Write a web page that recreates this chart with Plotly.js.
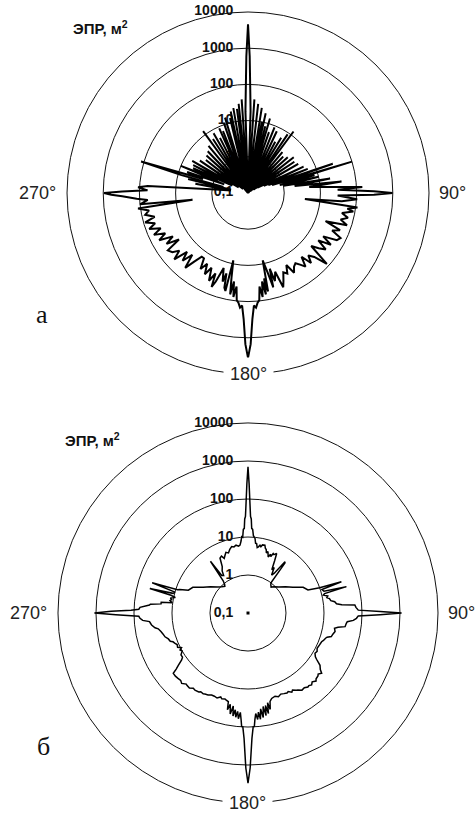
<!DOCTYPE html>
<html><head><meta charset="utf-8">
<script src="https://cdn.plot.ly/plotly-3.0.1.min.js"></script>
<style>html,body{margin:0;padding:0;background:#fff}#chart{width:476px;height:816px}</style>
</head><body><div id="chart"></div>
<script>
// Plot "а" — RCS (m^2) vs aspect angle (deg)
const thetaA = [
  0,0.7,1.3,1.8,2.3,3.9,4.6,6.5,7.2,9.2,
  9.8,11,11.6,12.5,13.2,14.5,15,16.4,17,19,
  19.6,22,22.7,25,25.6,28,28.6,31,31.7,34,
  34.6,36.5,37.2,40,40.8,44,45,48,49,52,
  53,56,57,60,61,64.6,65.4,68,69,71,
  71.8,73.2,74,75,76,77,78.5,80,81.5,83,
  84.5,86,87,88,89.2,90,90.8,91.6,93.3,95,
  96,97.5,99,100,102,104,106,108,110,112,
  114,116,118,120,122,124,126,128,130,132,
  134,136,138,140,142,144,146,148,150,152,
  154,156,158,159.5,161,163,164,165,166,167.7,
  168.5,169.3,170,171,172,173,174,175,176,177,
  178,179,180,181,182,183,184,185,186,187,
  188,189,190,191,192.3,193,194,195,196,198,
  200,201.2,202,204,206,208,210,212,214,216,
  218,220,222,224,226,228,230,232,234.4,236,
  238,240,242,244,246,248,250,252,254,255.7,
  258,260,262,263,264,266,267,268.5,269.3,270,
  270.7,271.5,273,274,276,278,280,281,283,284,
  285,286.4,287.2,289,290,292,293,294.3,295,297,
  298,300,301,304,305,308,309,312,313,316,
  317,320,321,324,324.7,327,327.6,330,330.6,333,
  333.6,336,336.6,338,338.6,341,341.6,343,343.6,346.5,
  347.2,348,348.6,350.2,350.8,352.5,353.1,354,354.6,356.1,
  357.7,358.2,358.7,359.3,360];
const rA = [
  4600,600,60,18,0.1,39,0.12,30,0.1,24,
  0.15,10,0.1,18,0.12,8,0.1,14,0.2,6,
  0.1,9,0.15,7.6,0.1,4,0.2,6,0.1,9,
  0.15,13,0.1,3,0.2,2.5,0.15,3,0.12,4,
  0.2,3.5,0.15,4,0.2,5,0.3,6,0.4,30,
  0.5,100,1,8,0.8,10,1,20,2,40,
  5,25,145,30,300,980,300,30,105,40,
  3.8,112,60,90,45,70,46,75,19,55,
  35,70,60,25,50,22,45,30,19,85,
  35,25,40,20,38,28,22,25,35,18,
  30,25,41,60,20,35,15,50,20,8,
  60,25,70,30,80,40,95,110,150,130,
  300,1500,3600,1500,300,130,150,110,95,40,
  80,30,70,25,8,60,50,20,35,15,
  40,61,25,45,20,35,18,30,15,15,
  25,50,20,40,22,55,30,45,53,20,
  45,25,60,35,70,40,80,50,90,46,
  80,60,117,3.5,100,60,120,300,600,950,
  300,60,110,60,0.8,0.3,3,0.3,5,0.5,
  8,120,2,6,0.5,10,0.8,4.6,0.3,5,
  0.4,6,0.2,4,0.2,3,0.15,3.5,0.2,4,
  0.15,5,0.1,12.9,0.1,6,0.15,8,0.1,5.1,
  0.1,9,0.1,7,0.2,11,0.1,15,0.12,13.5,
  0.1,20,0.1,24,0.12,22,0.1,30,0.12,39,
  0.1,18,60,600,4600];

// Plot "б"
const thetaB = [
  0,0.5,1,1.5,2,2.5,3.2,4,5.4,6.2,
  7.1,8,9,10,11,12,14,15,16,17,
  18,19.8,21,22,23,24,25.7,27,28.8,30,
  31.9,33.5,35.8,36.5,37.2,39,41.7,45,50,55,
  60,65,69,70.5,71.5,72.3,74,75,75.8,76.6,
  78,79,80,81.5,82.6,84,85,85.7,87,88.5,
  89.3,90,90.7,91.5,92.8,94,95,96,98,99,
  100,102,104,105.8,107,108,110,111.3,114,117,
  119,121,123,124,126,128,129.3,131,132,134,
  135,137,138.5,140,141,143,145,147,148,150,
  151,152.9,154,156,158,160,162,164.5,166,167,
  167.7,168.5,169.3,170,170.8,171.7,172.5,173.3,174,174.8,
  175.6,176.3,176.8,177.4,178.2,179.2,180,180.8,181.8,182.6,
  183.2,183.7,184.4,185.2,186,186.7,187.5,188.3,189,190,
  191,192,192.5,194,195,197,198,200,202,203.9,
  206,208,209,211,212,214.5,216,218,220,221,
  223.3,225,227,229,231.1,232,233,234.7,236,238,
  240,241.5,242.5,244,246,247.4,249,250,252,254,
  256,258,260,261,262.9,264,265,266,267.2,268.3,
  269.3,270,270.7,271.3,272,273,274.6,275.1,276,277,
  277.7,279,280,281,282,283,284,284.7,286,287.5,
  288.3,289,291,295,300,305,310,315,319,321,
  322.5,324,325,327,328.5,331,333,335,336.5,338,
  340,342,344,346.2,348,350,352,353.3,354.5,355.3,
  356,356.8,357.5,358,358.5,359,359.5,360];
const rB = [
  700,250,80,35,30,17,16,11,9.4,7,
  6.9,5.5,5.8,6.5,6,6.8,6.9,5.8,5.5,4.5,
  5,3.7,4.5,4,5,4.8,5.5,3.5,2,2.4,
  1.5,1.8,4.6,4.3,1.0,0.9,0.82,0.95,1.15,1.6,
  2.3,4,4.9,10,39,11,12,48,12,10.9,
  14,13,15,16,20,22,30,66,70,80,
  300,1100,300,80,72,60,42,40,38,25,
  20.5,22,20,19,15,14,13,12,11.5,11,
  12,11.4,13,15,22,26,32,28,30,31,
  34,30,33.6,31,32,29,30,26,25,22,
  24,21,22,21,20,22,20,21.5,25,40,
  26,50,30,55,31,60,35,65,42,65,
  45,65,98,100,200,1200,3000,1200,200,100,
  98,65,42,62,40,58,37,55,30,50,
  28,40,24.5,23,22,23,21,24,23,23,
  25,26,27,26,28,29,28,32,31,30,
  35,32,33,34,33.6,25,20,13.8,12,12,
  10,10.8,9.4,11.5,11,12,13,15,16,18.7,
  20,22,25,30,36,38,40,60,70,75,
  300,1100,400,120,75,70,40,38,20,20,
  10.3,12,11,12,9,12,46,11,10,44,
  9,8,4.8,4,2.3,1.6,1.15,0.95,0.85,0.95,
  1.2,4.8,1.6,1.5,2,2.5,4.2,4.5,3.7,4.2,
  5,4.6,5.5,6.3,6,6.5,6.0,6.3,8,10.4,
  10,16,17,30,35,80,250,700];

// Radial tick labels (decades) and angle labels
const radialVals = [0.1, 1, 10, 100, 1000, 10000];
const radialText = ['0,1', '1', '10', '100', '1000', '10000'];
const angleLabels = ['90°', '180°', '270°'];
const axisTitle = 'ЭПР, м<sup>2</sup>';
const panelLetters = ['а', 'б'];

const domA = {x: [0.1408, 0.9013], y: [0.5417, 0.9853]};
const domB = {x: [0.1218, 0.9202], y: [0.0159, 0.4816]};

function polarCfg(dom) {
  return {
    domain: dom,
    bgcolor: '#fff',
    angularaxis: {
      rotation: 90, direction: 'clockwise', showgrid: false,
      showline: true, linecolor: '#111', linewidth: 1,
      ticks: '', showticklabels: false
    },
    radialaxis: {
      type: 'log', range: [-1, 4], tickmode: 'linear', tick0: 0, dtick: 1,
      showline: false, showticklabels: false, ticks: '',
      showgrid: true, gridcolor: '#111', gridwidth: 1, angle: 0
    }
  };
}

const labelFont = {family: 'Liberation Sans, Arial, sans-serif', size: 14, color: '#111', weight: 'bold'};

function labelTrace(sub) {
  return {
    type: 'scatterpolar', subplot: sub, mode: 'markers+text',
    r: radialVals, theta: radialVals.map(() => 0),
    text: radialText, textposition: 'middle left', textfont: labelFont,
    marker: {size: 22, color: 'rgba(0,0,0,0)'}, cliponaxis: false,
    hoverinfo: 'skip', showlegend: false
  };
}

const data = [
  labelTrace('polar'),
  labelTrace('polar2'),
  {type: 'scatterpolar', subplot: 'polar', mode: 'lines', r: rA, theta: thetaA,
   line: {color: '#000', width: 2}, cliponaxis: false, showlegend: false},
  {type: 'scatterpolar', subplot: 'polar2', mode: 'lines', r: rB, theta: thetaB,
   line: {color: '#000', width: 1.5}, cliponaxis: false, showlegend: false},
  {type: 'scatterpolar', subplot: 'polar2', mode: 'markers', r: [radialVals[0]], theta: [0],
   marker: {size: 3, color: '#000', symbol: 'square'}, cliponaxis: false, showlegend: false}
];

const angFont = {family: 'Liberation Sans, Arial, sans-serif', size: 18, color: '#222'};
function angleAnn(dom) {
  const cx = (dom.x[0] + dom.x[1]) / 2, cy = (dom.y[0] + dom.y[1]) / 2;
  return [
    {xref: 'paper', yref: 'paper', x: dom.x[1], y: cy, xanchor: 'left', yanchor: 'middle', xshift: 8,
     text: angleLabels[0], showarrow: false, font: angFont},
    {xref: 'paper', yref: 'paper', x: cx, y: dom.y[0], xanchor: 'center', yanchor: 'middle',
     text: angleLabels[1], showarrow: false, font: angFont, bgcolor: '#fff', borderpad: 6},
    {xref: 'paper', yref: 'paper', x: dom.x[0], y: cy, xanchor: 'right', yanchor: 'middle', xshift: -9,
     text: angleLabels[2], showarrow: false, font: angFont}
  ];
}

const titleFont = {family: 'Liberation Sans, Arial, sans-serif', size: 15, color: '#111', weight: 'bold'};
const letterFont = {family: 'Liberation Serif, Times New Roman, serif', size: 26, color: '#111'};

const layout = {
  width: 476, height: 816,
  margin: {l: 0, r: 0, t: 0, b: 0},
  paper_bgcolor: '#fff',
  showlegend: false,
  polar: polarCfg(domA),
  polar2: polarCfg(domB),
  annotations: [
    ...angleAnn(domA), ...angleAnn(domB),
    {xref: 'paper', yref: 'paper', x: 0.212, y: 0.9657, xanchor: 'center', yanchor: 'middle',
     text: axisTitle, showarrow: false, font: titleFont},
    {xref: 'paper', yref: 'paper', x: 0.194, y: 0.4608, xanchor: 'center', yanchor: 'middle',
     text: axisTitle, showarrow: false, font: titleFont},
    {xref: 'paper', yref: 'paper', x: 0.089, y: 0.614, xanchor: 'center', yanchor: 'middle',
     text: panelLetters[0], showarrow: false, font: letterFont},
    {xref: 'paper', yref: 'paper', x: 0.0914, y: 0.0846, xanchor: 'center', yanchor: 'middle',
     text: panelLetters[1], showarrow: false, font: letterFont}
  ]
};

Plotly.newPlot('chart', data, layout, {staticPlot: true, displayModeBar: false});
</script>
</body></html>
